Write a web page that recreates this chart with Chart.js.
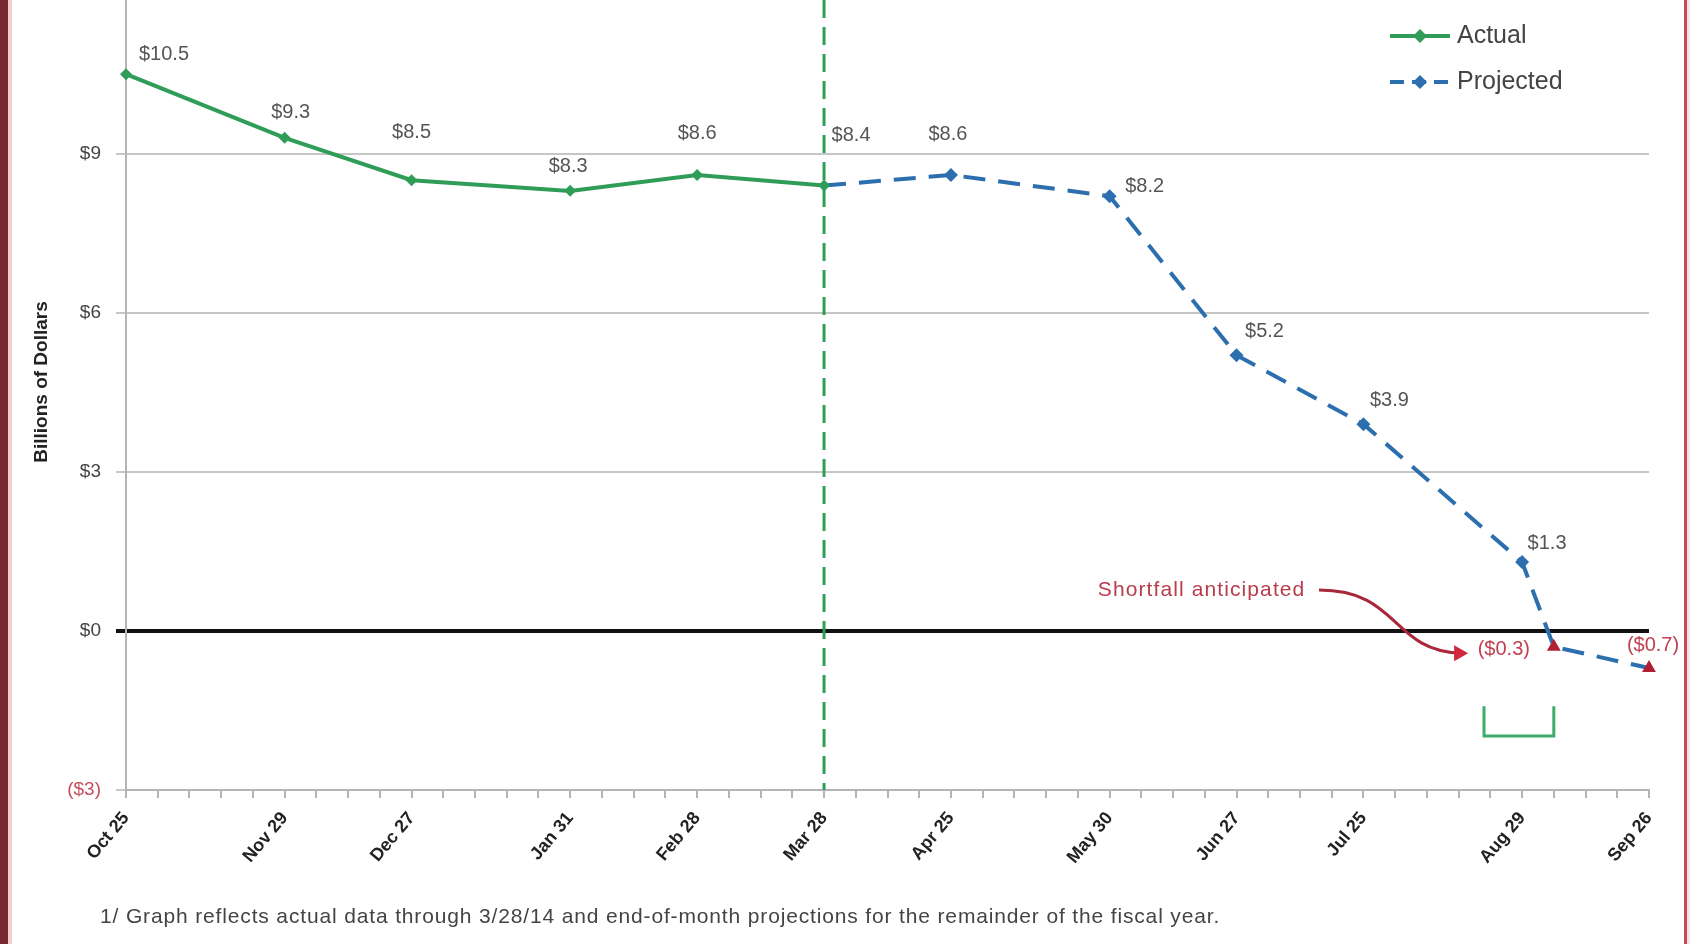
<!DOCTYPE html>
<html>
<head>
<meta charset="utf-8">
<script src="https://cdn.jsdelivr.net/npm/chart.js@4.4.1/dist/chart.umd.min.js"></script>
<style>
  html, body { margin: 0; padding: 0; background: #fff; }
  #wrap { position: relative; width: 1690px; height: 944px; overflow: hidden; background: #fff; }
  #chart { position: absolute; left: 0; top: 0; }
  .edgeL { position: absolute; left: 0; top: 0; width: 8px; height: 944px; background: #7b2731; }
  .edgeL2 { position: absolute; left: 8px; top: 0; width: 4px; height: 944px; background: #f3cfd2; }
  .edgeR { position: absolute; left: 1684px; top: 0; width: 3px; height: 944px; background: #c24a58; }
  .edgeR2 { position: absolute; left: 1687px; top: 0; width: 3px; height: 944px; background: #fbe2e4; }
  #note { position: absolute; left: 100px; top: 904px; font: 21px "Liberation Sans", Arial, sans-serif; letter-spacing: 0.85px; color: #444; white-space: nowrap; }
</style>
</head>
<body>
<div id="wrap">
  <canvas id="chart" width="1690" height="944"></canvas>
  <div class="edgeL"></div><div class="edgeL2"></div>
  <div class="edgeR"></div><div class="edgeR2"></div>
  <div id="note">1/ Graph reflects actual data through 3/28/14 and end-of-month projections for the remainder of the fiscal year.</div>
</div>
<script>
// week index (weekly Fridays from Oct 25) and the dates shown on the axis
const weekLabels = ['Oct 25', 'Nov 29', 'Dec 27', 'Jan 31', 'Feb 28', 'Mar 28', 'Apr 25', 'May 30', 'Jun 27', 'Jul 25', 'Aug 29', 'Sep 26'];
const labelWeeks = [0, 5, 9, 14, 18, 22, 26, 31, 35, 39, 44, 48];

// billions of dollars
const actualWeeks = [0, 5, 9, 14, 18, 22];
const actualValues = [10.5, 9.3, 8.5, 8.3, 8.6, 8.4];
const projectedWeeks = [22, 26, 31, 35, 39, 44, 45, 48];
const projectedValues = [8.4, 8.6, 8.2, 5.2, 3.9, 1.3, -0.3, -0.7];

const cutoverWeek = 22;

// label offsets (px) from each point
const actualLabelOffsets = [[38, -20], [6, -25], [0, -48], [-2, -24], [0, -41], [27, -50]];
const projectedLabelOffsets = [null, [-3, -40], [35, -10], [28, -24], [26, -24], [25, -19], [-50, 3], [4, -23]];

const FONT = '"Liberation Sans", Arial, sans-serif';
const GREEN = '#2f9d58';
const BLUE = '#2c6fae';
const RED = '#b01f33';

Chart.defaults.font.family = FONT;

function money(v, digits) {
  const s = '$' + Math.abs(v).toFixed(digits);
  return v < 0 ? '(' + s + ')' : s;
}

// point labels
const pointLabels = {
  id: 'pointLabels',
  afterDatasetsDraw(chart) {
    const ctx = chart.ctx;
    const sets = [actualLabelOffsets, projectedLabelOffsets];
    ctx.save();
    ctx.font = '20px ' + FONT;
    ctx.textAlign = 'center';
    ctx.textBaseline = 'middle';
    chart.data.datasets.forEach((ds, di) => {
      const meta = chart.getDatasetMeta(di);
      meta.data.forEach((pt, i) => {
        const off = sets[di][i];
        if (!off) return;
        const v = ds.data[i].y;
        ctx.fillStyle = v < 0 ? '#c0404f' : '#555';
        ctx.fillText(money(v, 1), pt.x + off[0], pt.y + off[1]);
      });
    });
    ctx.restore();
  }
};

// cutover line, axis title, shortfall note, bracket, legend
const extras = {
  id: 'extras',
  beforeDatasetsDraw(chart) {
    const {ctx, chartArea, scales} = chart;
    const x = scales.x.getPixelForValue(cutoverWeek);
    ctx.save();
    ctx.strokeStyle = GREEN;
    ctx.lineWidth = 3;
    ctx.setLineDash([18, 9]);
    ctx.beginPath();
    ctx.moveTo(x, chartArea.top);
    ctx.lineTo(x, chartArea.bottom);
    ctx.stroke();
    ctx.restore();
  },
  afterDraw(chart) {
    const {ctx, scales} = chart;
    const px = w => scales.x.getPixelForValue(w);
    const py = v => scales.y.getPixelForValue(v);
    ctx.save();

    // y axis title
    ctx.save();
    ctx.translate(42, 382);
    ctx.rotate(-Math.PI / 2);
    ctx.font = 'bold 19px ' + FONT;
    ctx.fillStyle = '#222';
    ctx.textAlign = 'center';
    ctx.textBaseline = 'middle';
    ctx.fillText('Billions of Dollars', 0, 0);
    ctx.restore();

    // shortfall text + curved arrow
    ctx.font = '21px ' + FONT;
    ctx.letterSpacing = '1.1px';
    ctx.fillStyle = '#b83c4a';
    ctx.textAlign = 'center';
    ctx.textBaseline = 'middle';
    ctx.fillText('Shortfall anticipated', px(33.9), py(0.77));
    ctx.letterSpacing = '0px';

    const p0 = [px(37.6), py(0.77)], p1 = [px(40.15), py(0.77)];
    const p2 = [px(39.84), py(-0.36)], p3 = [px(42.3), py(-0.42)];
    ctx.strokeStyle = '#a8283a';
    ctx.lineWidth = 3;
    ctx.beginPath();
    ctx.moveTo(p0[0], p0[1]);
    ctx.bezierCurveTo(p1[0], p1[1], p2[0], p2[1], p3[0] - 8, p3[1]);
    ctx.stroke();
    ctx.fillStyle = '#d0283a';
    ctx.beginPath();
    ctx.moveTo(p3[0], p3[1]);
    ctx.lineTo(p3[0] - 14, p3[1] - 8);
    ctx.lineTo(p3[0] - 14, p3[1] + 8);
    ctx.closePath();
    ctx.fill();

    // bracket under the crossing
    ctx.strokeStyle = '#3cae6a';
    ctx.lineWidth = 3;
    ctx.beginPath();
    ctx.moveTo(px(42.8), py(-1.42));
    ctx.lineTo(px(42.8), py(-1.98));
    ctx.lineTo(px(45), py(-1.98));
    ctx.lineTo(px(45), py(-1.42));
    ctx.stroke();

    // legend
    const items = [
      {text: 'Actual', color: GREEN, dash: [], y: 36},
      {text: 'Projected', color: BLUE, dash: [14, 8], y: 82}
    ];
    items.forEach(it => {
      ctx.strokeStyle = it.color;
      ctx.lineWidth = 4;
      ctx.setLineDash(it.dash);
      ctx.beginPath();
      ctx.moveTo(1390, it.y);
      ctx.lineTo(1450, it.y);
      ctx.stroke();
      ctx.setLineDash([]);
      ctx.fillStyle = it.color;
      ctx.beginPath();
      ctx.moveTo(1420, it.y - 7);
      ctx.lineTo(1427, it.y);
      ctx.lineTo(1420, it.y + 7);
      ctx.lineTo(1413, it.y);
      ctx.closePath();
      ctx.fill();
      ctx.font = '25px ' + FONT;
      ctx.fillStyle = '#444';
      ctx.textAlign = 'left';
      ctx.textBaseline = 'middle';
      ctx.fillText(it.text, 1457, it.y);
    });
    ctx.restore();
  }
};

new Chart(document.getElementById('chart'), {
  type: 'line',
  data: {
    datasets: [
      {
        label: 'Actual',
        data: actualWeeks.map((w, i) => ({x: w, y: actualValues[i]})),
        borderColor: GREEN,
        backgroundColor: GREEN,
        borderWidth: 4,
        pointStyle: 'rectRot',
        pointRadius: 6,
        pointBorderWidth: 0,
        tension: 0,
        clip: false,
        order: 1
      },
      {
        label: 'Projected',
        data: projectedWeeks.map((w, i) => ({x: w, y: projectedValues[i]})),
        borderColor: BLUE,
        borderWidth: 4,
        borderDash: [22, 13],
        pointStyle: projectedValues.map(v => v < 0 ? 'triangle' : 'rectRot'),
        pointRadius: projectedWeeks.map((w, i) => i === 0 ? 0 : (projectedValues[i] < 0 ? 8 : 7)),
        pointBackgroundColor: projectedValues.map(v => v < 0 ? RED : BLUE),
        pointBorderWidth: 0,
        tension: 0,
        clip: false,
        order: 2
      }
    ]
  },
  options: {
    responsive: false,
    animation: false,
    devicePixelRatio: 1,
    layout: {autoPadding: false, padding: {left: 30, right: 41, top: 0, bottom: 0}},
    plugins: {legend: {display: false}, tooltip: {enabled: false}},
    scales: {
      x: {
        type: 'linear',
        min: 0,
        max: 48,
        afterFit: s => { s.height = 154; s.paddingLeft = 0; s.paddingRight = 0; s.paddingTop = 0; s.paddingBottom = 0; },
        border: {color: '#b4b4b4', width: 2},
        grid: {drawOnChartArea: false, color: '#b4b4b4', lineWidth: 2, tickLength: 8},
        ticks: {
          stepSize: 1,
          autoSkip: false,
          minRotation: 50,
          maxRotation: 50,
          padding: 10,
          color: '#222',
          font: {size: 18, weight: 'bold'},
          callback: v => {
            const i = labelWeeks.indexOf(v);
            return i >= 0 ? weekLabels[i] : '';
          }
        }
      },
      y: {
        min: -3,
        max: 11.9,
        afterFit: s => { s.width = 96; s.paddingTop = 0; s.paddingBottom = 0; },
        border: {color: '#b4b4b4', width: 2},
        grid: {
          color: c => c.tick && c.tick.value === 0 ? '#111' : '#c6c6c6',
          lineWidth: c => c.tick && c.tick.value === 0 ? 4 : 2,
          tickLength: 10
        },
        ticks: {
          stepSize: 3,
          includeBounds: false,
          padding: 15,
          color: c => c.tick.value < 0 ? '#c4505e' : '#444',
          font: {size: 19},
          callback: v => money(v, 0)
        }
      }
    }
  },
  plugins: [pointLabels, extras]
});
</script>
</body>
</html>
